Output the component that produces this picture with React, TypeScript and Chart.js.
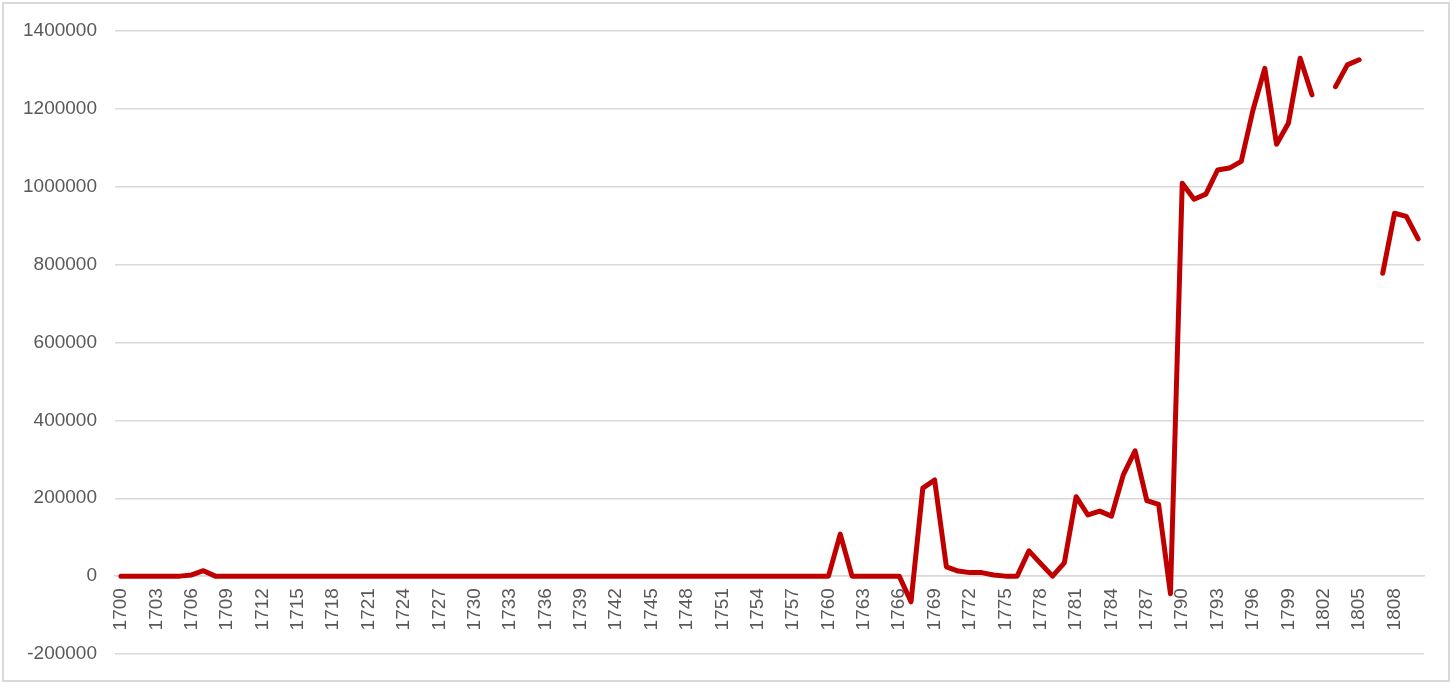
import { useEffect, useRef } from 'react';
import { Chart, registerables } from 'chart.js';

Chart.register(...registerables);

// 年份 1700–1810
const years = [
  1700, 1701, 1702, 1703, 1704, 1705, 1706, 1707, 1708, 1709,
  1710, 1711, 1712, 1713, 1714, 1715, 1716, 1717, 1718, 1719,
  1720, 1721, 1722, 1723, 1724, 1725, 1726, 1727, 1728, 1729,
  1730, 1731, 1732, 1733, 1734, 1735, 1736, 1737, 1738, 1739,
  1740, 1741, 1742, 1743, 1744, 1745, 1746, 1747, 1748, 1749,
  1750, 1751, 1752, 1753, 1754, 1755, 1756, 1757, 1758, 1759,
  1760, 1761, 1762, 1763, 1764, 1765, 1766, 1767, 1768, 1769,
  1770, 1771, 1772, 1773, 1774, 1775, 1776, 1777, 1778, 1779,
  1780, 1781, 1782, 1783, 1784, 1785, 1786, 1787, 1788, 1789,
  1790, 1791, 1792, 1793, 1794, 1795, 1796, 1797, 1798, 1799,
  1800, 1801, 1802, 1803, 1804, 1805, 1806, 1807, 1808, 1809,
  1810,
];

// 數值（null = 缺值，線段中斷）
const values: (number | null)[] = [
  0, 0, 0, 0, 0, 0, 3000, 14000, 0, 0,
  0, 0, 0, 0, 0, 0, 0, 0, 0, 0,
  0, 0, 0, 0, 0, 0, 0, 0, 0, 0,
  0, 0, 0, 0, 0, 0, 0, 0, 0, 0,
  0, 0, 0, 0, 0, 0, 0, 0, 0, 0,
  0, 0, 0, 0, 0, 0, 0, 0, 0, 0,
  0, 108000, 0, 0, 0, 0, 0, -66000, 226000, 247000,
  24000, 13000, 9000, 9000, 3000, 0, 0, 65000, 32000, 0,
  34000, 204000, 157000, 167000, 154000, 260000, 322000, 194000, 184000, -45000,
  1009000, 968000, 981000, 1043000, 1048000, 1065000, 1197000, 1304000, 1109000, 1163000,
  1330000, 1236000, null, 1257000, 1313000, 1326000, null, 778000, 932000, 924000,
  866000,
];

const yMin = -200000;
const yMax = 1400000;
const yStep = 200000;
const labelEvery = 3;

export default function App() {
  const chartRef = useRef<HTMLCanvasElement>(null);
  const chartInstance = useRef<Chart | null>(null);

  useEffect(() => {
    document.body.style.margin = '0';
    if (!chartRef.current) return;
    if (chartInstance.current) chartInstance.current.destroy();

    const ctx = chartRef.current.getContext('2d');
    if (!ctx) return;

    chartInstance.current = new Chart(ctx, {
      type: 'line',
      data: {
        labels: years.map(String),
        datasets: [
          {
            data: values,
            borderColor: '#C00000',
            borderWidth: 5,
            borderJoinStyle: 'round',
            borderCapStyle: 'round',
            pointRadius: 0,
            tension: 0,
            spanGaps: false,
            fill: false,
          },
        ],
      },
      options: {
        animation: false,
        responsive: true,
        maintainAspectRatio: false,
        layout: { padding: { left: 0, top: 31, right: 32, bottom: 34 } },
        plugins: {
          legend: { display: false },
          tooltip: { enabled: false },
        },
        scales: {
          x: {
            position: { y: 0 },
            offset: true,
            grid: { display: false, drawTicks: false },
            border: { display: true, color: '#d9d9d9', width: 1.5 },
            ticks: {
              autoSkip: false,
              minRotation: 90,
              maxRotation: 90,
              padding: 12,
              color: '#595959',
              font: { family: 'Liberation Sans', size: 19 },
              callback: (_v, i) => (i % labelEvery === 0 ? years[i] : ''),
            },
          },
          y: {
            min: yMin,
            max: yMax,
            afterFit: (scale) => {
              scale.width = 115;
            },
            grid: { color: '#d9d9d9', lineWidth: 1.5, drawTicks: false },
            border: { display: false },
            ticks: {
              stepSize: yStep,
              padding: 18,
              color: '#595959',
              font: { family: 'Liberation Sans', size: 19 },
              callback: (v) => String(v),
            },
          },
        },
      },
    });

    return () => {
      if (chartInstance.current) {
        chartInstance.current.destroy();
        chartInstance.current = null;
      }
    };
  }, []);

  return (
    <div style={{ position: 'relative', width: 1456, height: 688, background: '#fff' }}>
      <div
        style={{
          position: 'absolute',
          left: 2,
          top: 2,
          width: 1448,
          height: 680,
          border: '2px solid #d9d9d9',
          boxSizing: 'border-box',
        }}
      />
      <div style={{ position: 'absolute', left: 0, top: 0, width: 1456, height: 688 }}>
        <canvas ref={chartRef}></canvas>
      </div>
    </div>
  );
}
